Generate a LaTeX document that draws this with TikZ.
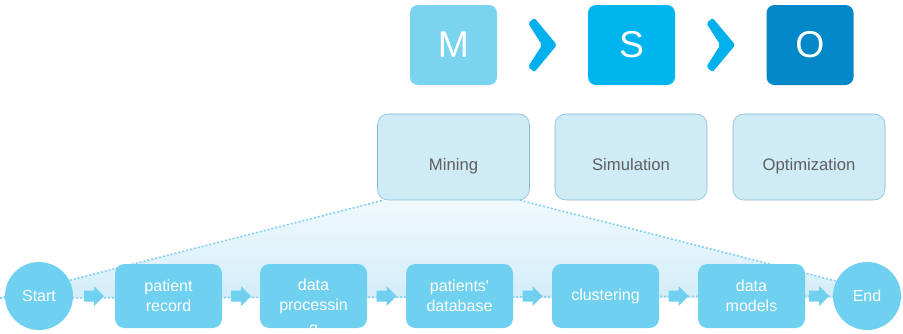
\documentclass[tikz,border=0pt]{standalone}
\usepackage{fontspec}
\setmainfont{Liberation Sans}
\usetikzlibrary{backgrounds}
\definecolor{mcol}{RGB}{122,212,240}
\definecolor{scol}{RGB}{0,180,238}
\definecolor{ocol}{RGB}{0,136,200}
\definecolor{chevcol}{RGB}{0,176,236}
\definecolor{phasefill}{RGB}{207,235,246}
\definecolor{phaseborder}{RGB}{130,185,210}
\definecolor{phasetext}{RGB}{95,95,95}
\definecolor{stepfill}{RGB}{112,208,240}
\definecolor{dotcol}{RGB}{130,210,240}
\definecolor{shadetop}{RGB}{240,249,253}
\definecolor{shadebot}{RGB}{212,237,249}
\begin{document}
\begin{tikzpicture}[x=0.75pt,y=-0.75pt]
        \tikzstyle{letter}=[rounded corners=6pt,minimum width=65.25pt,minimum height=60pt,text=white,font=\fontsize{28}{30}\selectfont]
        \tikzstyle{phase}=[draw=phaseborder,fill=phasefill,rounded corners=8pt,minimum width=114pt,minimum height=64.5pt,text=phasetext,text height=20pt,text depth=0pt,font=\fontsize{12.5}{15}\selectfont]
        \tikzstyle{stepbox}=[fill=stepfill,rounded corners=7pt,minimum width=80.25pt,minimum height=48pt,text=white,align=center,font=\fontsize{12}{15}\selectfont]
        \tikzstyle{endpoint}=[circle,fill=stepfill,minimum size=51pt,inner sep=0pt,text=white,font=\fontsize{12}{15}\selectfont]
        \tikzstyle{fatarrow}=[fill=stepfill]
        \tikzstyle{chev}=[fill=chevcol,rounded corners=1.5pt]
        \tikzstyle{dotline}=[draw=dotcol,line width=1.2pt,dash pattern=on 1.5pt off 1.5pt]
        \useasboundingbox (0,0) rectangle (903,333);
       % M > S > O
       \begin{scope}
         \node [letter,fill=mcol] (M) at (453.5,45) {M};
         \node [letter,fill=scol] (S) at (631.5,45) {S};
         \node [letter,fill=ocol] (O) at (810,45) {O};
         \path (M) -- coordinate (c1) (S);
         \path (S) -- coordinate (c2) (O);
         \foreach \c in {c1,c2}
           \fill [chev] ([shift={(-14.5,-22)}]\c) -- ([shift={(-8,-27)}]\c) -- ([shift={(14.5,0)}]\c)
             -- ([shift={(-8,27)}]\c) -- ([shift={(-14.5,22)}]\c) -- ([shift={(-0.5,0)}]\c) -- cycle;
        \end{scope}
       % phases
       \begin{scope}
         \node [phase] (mining) at (453.5,157) {Mining};
         \node [phase] (sim) at (631,157) {Simulation};
         \node [phase] (opt) at (809,157) {Optimization};
        \end{scope}
       % process row
       \begin{scope}
         \node [endpoint] (start) at (39,296) {Start};
         \node [stepbox] (rec) at (168.5,296) {patient\\record};
         \node [stepbox,label={[text=white,font=\fontsize{12}{15}\selectfont,anchor=center,yshift=-2pt]south:g}] (proc) at (313.5,296) {data\\processin};
         \node [stepbox] (db) at (459.5,296) {patients\textquotesingle\\database};
         \node [stepbox] (clus) at (605.5,296) {clustering};
         \node [stepbox] (models) at (751.5,296) {data\\models};
         \node [endpoint] (end) at (867,296) {End};
         \foreach \a/\b in {start/rec,rec/proc,proc/db,db/clus,clus/models,models/end} {
           \path (\a) -- coordinate (m) (\b);
           \fill [fatarrow] ([shift={(-10,-5.5)}]m) -- ([shift={(0,-5.5)}]m) -- ([shift={(0,-10)}]m)
             -- ([shift={(10,0)}]m) -- ([shift={(0,10)}]m) -- ([shift={(0,5.5)}]m) -- ([shift={(-10,5.5)}]m) -- cycle;
         }
        \end{scope}
       % zoom from Mining onto the row
       \begin{scope}[on background layer]
         \coordinate (lft) at (0,298);
         \coordinate (rgt) at (903,298);
         \shade [top color=shadetop,bottom color=shadebot] (lft) -- ([shift={(6,0)}]mining.south west)
           -- ([shift={(-10,0)}]mining.south east) -- (rgt) -- cycle;
         \path [dotline] (lft) -- ([shift={(6,0)}]mining.south west);
         \path [dotline] ([shift={(-10,0)}]mining.south east) -- (rgt);
         \path [dotline] (lft) -- (end);
        \end{scope}
      \end{tikzpicture}
\end{document}
